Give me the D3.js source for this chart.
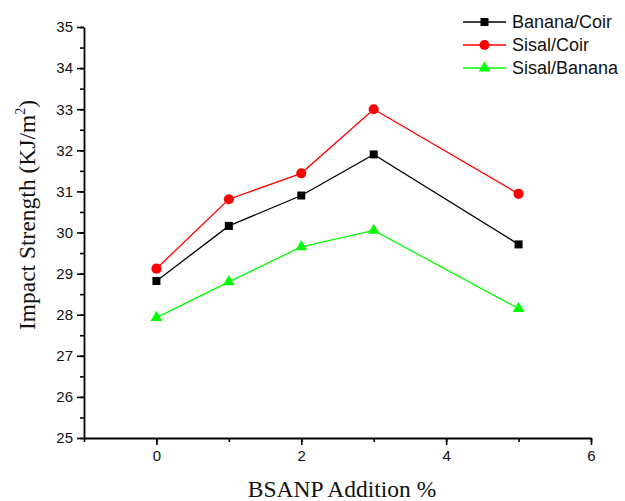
<!DOCTYPE html>
<html>
<head>
<meta charset="utf-8">
<script src="https://cdn.jsdelivr.net/npm/d3@7"></script>
<style>
  body { margin: 0; background: #fff; }
  svg { display: block; }
</style>
</head>
<body>
<script>
// chart data
const xValues = [0, 1, 2, 3, 5];
const bananaCoir = [28.82, 30.16, 30.90, 31.90, 29.71];
const sisalCoir = [29.12, 30.81, 31.44, 33.00, 30.94];
const sisalBanana = [27.93, 28.80, 29.65, 30.05, 28.15];
const seriesNames = ['Banana/Coir', 'Sisal/Coir', 'Sisal/Banana'];
const xTicks = [0, 2, 4, 6];
const yTicks = [25, 26, 27, 28, 29, 30, 31, 32, 33, 34, 35];

const series = [
  { name: seriesNames[0], values: bananaCoir, color: '#000000', symbol: d3.symbolSquare, size: 64 },
  { name: seriesNames[1], values: sisalCoir, color: '#ff0000', symbol: d3.symbolCircle, size: 80 },
  { name: seriesNames[2], values: sisalBanana, color: '#00ff00', symbol: d3.symbolTriangle, size: 60 }
];

const W = 625, H = 501;
const margin = { top: 27, right: 34, bottom: 63, left: 84 };
const width = W - margin.left - margin.right;
const height = H - margin.top - margin.bottom;

const svg = d3.select('body').append('svg')
  .attr('width', W)
  .attr('height', H);

const g = svg.append('g')
  .attr('transform', `translate(${margin.left},${margin.top})`);

const x = d3.scaleLinear().domain([-1, 6]).range([0, width]);
const y = d3.scaleLinear().domain([25, 35]).range([height, 0]);

// minor ticks first, then major ones on top
g.append('g')
  .attr('transform', `translate(0,${height})`)
  .call(d3.axisBottom(x).tickValues(d3.range(-1, 7, 1)).tickSize(4).tickFormat(''))
  .call(a => a.select('.domain').remove());

g.append('g')
  .call(d3.axisLeft(y).tickValues(d3.range(25, 35.01, 0.5)).tickSize(4).tickFormat(''))
  .call(a => a.select('.domain').remove());

const xAxis = g.append('g')
  .attr('transform', `translate(0,${height})`)
  .call(d3.axisBottom(x).tickValues(xTicks).tickSize(7).tickSizeOuter(0).tickPadding(5).tickFormat(d3.format('d')));

const yAxis = g.append('g')
  .call(d3.axisLeft(y).tickValues(yTicks).tickSize(7).tickSizeOuter(0).tickPadding(4).tickFormat(d3.format('d')));

svg.selectAll('.tick line').attr('stroke', '#000').attr('stroke-width', 1.6);
[xAxis, yAxis].forEach(a => {
  a.select('.domain').attr('stroke', '#000').attr('stroke-width', 1.8);
  a.selectAll('text')
    .attr('font-family', 'Liberation Sans, Arial, sans-serif')
    .attr('font-size', 15)
    .attr('fill', '#111');
});

// series lines and markers
series.forEach(s => {
  const pts = xValues.map((xv, i) => [xv, s.values[i]]);
  g.append('path')
    .datum(pts)
    .attr('fill', 'none')
    .attr('stroke', s.color)
    .attr('stroke-width', 1.3)
    .attr('d', d3.line().x(d => x(d[0])).y(d => y(d[1])));

  g.selectAll(null)
    .data(pts)
    .enter()
    .append('path')
    .attr('transform', d => `translate(${x(d[0])},${y(d[1])})`)
    .attr('d', d3.symbol().type(s.symbol).size(s.size))
    .attr('fill', s.color);
});

// axis titles
svg.append('text')
  .attr('x', 342)
  .attr('y', 497)
  .attr('text-anchor', 'middle')
  .attr('font-family', 'Liberation Serif, Times New Roman, serif')
  .attr('font-size', 23.5)
  .attr('fill', '#111')
  .text('BSANP Addition %');

const yt = svg.append('text')
  .attr('transform', `translate(35,${215}) rotate(-90)`)
  .attr('text-anchor', 'middle')
  .attr('font-family', 'Liberation Serif, Times New Roman, serif')
  .attr('font-size', 23.5)
  .attr('fill', '#111');
yt.append('tspan').text('Impact Strength (KJ/m');
yt.append('tspan').attr('font-size', 14).attr('dy', -10).text('2');
yt.append('tspan').attr('dy', 10).text(')');

// legend
const legend = svg.append('g').attr('transform', 'translate(463,22)');
series.forEach((s, i) => {
  const row = legend.append('g').attr('transform', `translate(0,${i * 23})`);
  row.append('line')
    .attr('x1', 0).attr('x2', 43)
    .attr('stroke', s.color).attr('stroke-width', 1.3);
  row.append('path')
    .attr('transform', 'translate(21.5,0)')
    .attr('d', d3.symbol().type(s.symbol).size(s.size))
    .attr('fill', s.color);
  row.append('text')
    .attr('x', 49)
    .attr('y', 6)
    .attr('font-family', 'Liberation Sans, Arial, sans-serif')
    .attr('font-size', 18)
    .attr('fill', '#111')
    .text(s.name);
});
</script>
</body>
</html>
